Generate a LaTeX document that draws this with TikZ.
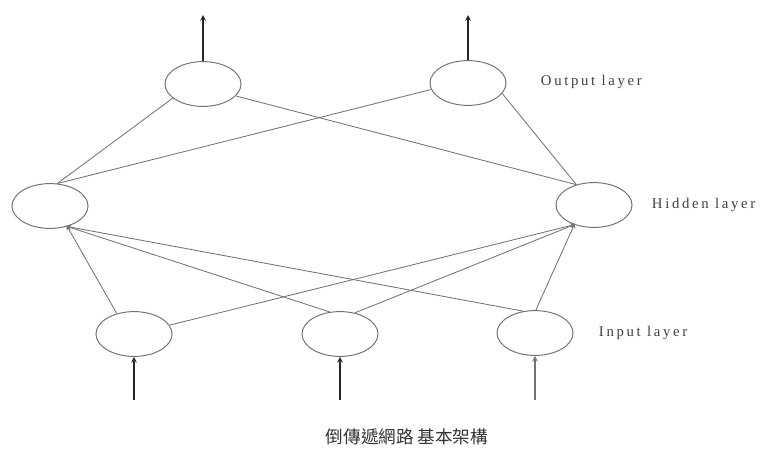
\documentclass[tikz,border=0pt]{standalone}
\usepackage{fontspec}
\usepackage{tikz}
\usetikzlibrary{arrows, shapes.geometric}
\newfontfamily\layerfont[LetterSpace=18]{Liberation Serif}
\newfontfamily\cjkfont{Noto Sans CJK TC}

\tikzset{
    neuron/.style={ellipse, draw=black!55, line width=.7pt, minimum width=1.9cm, minimum height=1.12cm, inner sep=0pt},
    link/.style={draw=black!55, line width=.6pt},
    feed/.style={link, -stealth, shorten >=-1pt},
    signal/.style={draw=black!85, line width=.8pt, -stealth},
    layername/.style={anchor=west, font=\layerfont\fontsize{10.5}{12}\selectfont, text=black!75}
}

\begin{document}
\begin{tikzpicture}[x=0.025cm, y=-0.025cm]
        \useasboundingbox (0,0) rectangle (776,455);

        % neurons, three layers
        \node[neuron] (o1) at (203,84) {};
        \node[neuron] (o2) at (468,83) {};
        \node[neuron] (h1) at (50,206) {};
        \node[neuron] (h2) at (594,205) {};
        \node[neuron] (i1) at (134,334) {};
        \node[neuron] (i2) at (340,334) {};
        \node[neuron] (i3) at (535,333) {};

        % hidden to output
        \draw[link] (h1.72) -- (o1.205);
        \draw[link] (h1.72) -- (o2.190);
        \draw[link] (h2.131) -- (o1.340);
        \draw[link] (h2.131) -- (o2.343);

        % input to hidden
        \draw[feed] (i1.130) -- (h1.-50);
        \draw[feed] (i2.115) -- (h1.-50);
        \draw[feed] (i3.118) -- (h1.-50);
        \draw[feed] (i1.14) -- (h2.225);
        \draw[feed] (i2.55) -- (h2.225);
        \draw[feed] (i3.88) -- (h2.225);

        % signals in and out
        \coordinate (in1) at (134,400);
        \coordinate (in2) at (340,400);
        \coordinate (in3) at (535,400);
        \coordinate (out1) at (203,15);
        \coordinate (out2) at (468,15);
        \draw[signal] (in1) -- (i1.south);
        \draw[signal] (in2) -- (i2.south);
        \draw[signal, draw=black!55] (in3) -- (i3.south);
        \draw[signal] (o1.north) -- (out1);
        \draw[signal] (o2.north) -- (out2);

        % layer names
        \node[layername] (tout) at (536,82) {Output layer};
        \node[layername] (thid) at (647,205) {Hidden layer};
        \node[layername] (tin) at (594,333) {Input layer};

        \node[font=\cjkfont\fontsize{12.5}{14}\selectfont, text=black!80] (cap) at (407,437) {倒傳遞網路\ 基本架構};
    \end{tikzpicture}
\end{document}
